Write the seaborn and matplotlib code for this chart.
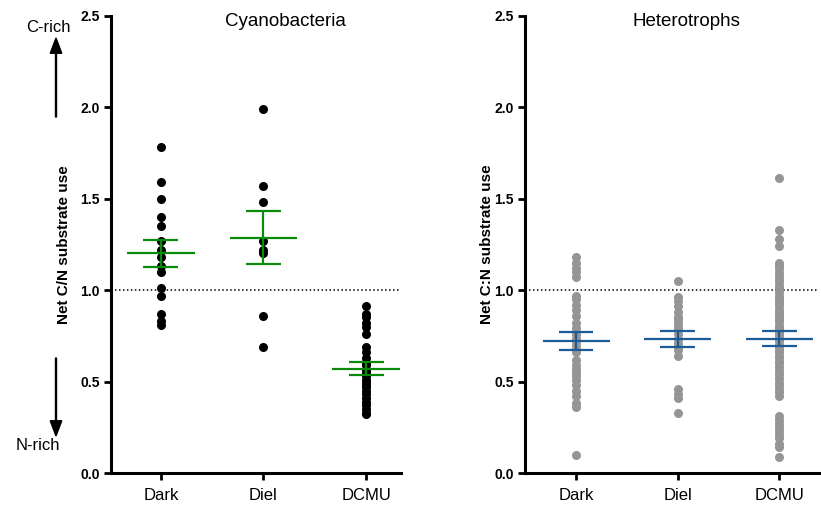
import numpy as np
import pandas as pd
import matplotlib
matplotlib.use("Agg")
import matplotlib.pyplot as plt
import seaborn as sns

categories = ["Dark", "Diel", "DCMU"]

cyano_dark = [1.78, 1.59, 1.50, 1.40, 1.35, 1.27, 1.22, 1.18, 1.13, 1.10, 1.01, 0.97, 0.87, 0.83, 0.81]
cyano_diel = [1.99, 1.57, 1.48, 1.27, 1.22, 1.20, 0.86, 0.69]
cyano_dcmu = [0.91, 0.87, 0.85, 0.82, 0.80, 0.76, 0.69, 0.66, 0.63, 0.60, 0.59, 0.56, 0.55,
              0.53, 0.51, 0.49, 0.48, 0.47, 0.45, 0.43, 0.41, 0.39, 0.37, 0.35, 0.33, 0.32]

het_dark = [1.18, 1.15, 1.12, 1.10, 1.07, 0.97, 0.95, 0.92, 0.89, 0.86, 0.82, 0.79, 0.76, 0.74,
            0.72, 0.70, 0.68, 0.66, 0.62, 0.59, 0.57, 0.55, 0.53, 0.51, 0.48, 0.45, 0.42,
            0.38, 0.36, 0.10]
het_diel = [1.05, 0.96, 0.94, 0.91, 0.88, 0.85, 0.84, 0.82, 0.80, 0.79, 0.76, 0.73, 0.71,
            0.69, 0.67, 0.64, 0.46, 0.43, 0.41, 0.33]
het_dcmu = [1.61, 1.33, 1.28, 1.24, 1.15, 1.13, 1.12, 1.10, 1.08, 1.06, 1.05, 1.03, 1.01,
            0.99, 0.97, 0.95, 0.94, 0.93, 0.91, 0.89, 0.88, 0.87, 0.85, 0.84, 0.83, 0.81,
            0.80, 0.79, 0.78, 0.77, 0.76, 0.75, 0.73, 0.72, 0.70, 0.69, 0.67, 0.66, 0.64,
            0.63, 0.61, 0.60, 0.58, 0.56, 0.54, 0.52, 0.50, 0.48, 0.46, 0.44, 0.42, 0.31,
            0.29, 0.27, 0.25, 0.23, 0.21, 0.19, 0.16, 0.14, 0.09]

y_ticks = [0.0, 0.5, 1.0, 1.5, 2.0, 2.5]
y_ticklabels = ["0.0", "0.5", "1.0", "1.5", "2.0", "2.5"]


def to_df(groups):
    rows = []
    for cat, vals in zip(categories, groups):
        for v in vals:
            rows.append({"group": cat, "value": v})
    return pd.DataFrame(rows)


sns.set_style("ticks")
plt.rcParams["font.family"] = ["Liberation Sans", "DejaVu Sans"]
plt.rcParams["text.color"] = "black"
plt.rcParams["axes.labelcolor"] = "black"
plt.rcParams["xtick.color"] = "black"
plt.rcParams["ytick.color"] = "black"

fig = plt.figure(figsize=(8.21, 5.09), dpi=100)
ax1 = fig.add_axes([0.1352, 0.0707, 0.3532, 0.8988])
ax2 = fig.add_axes([0.6395, 0.0707, 0.3580, 0.8988])

panels = [
    (ax1, [cyano_dark, cyano_diel, cyano_dcmu], "black", "#0a8a0a", "Cyanobacteria",
     "Net C/N substrate use", (-0.486, 2.34), 0.60, 7),
    (ax2, [het_dark, het_diel, het_dcmu], "#959595", "#1b5b97", "Heterotrophs",
     "Net C:N substrate use", (-0.502, 2.39), 0.55, 0),
]

for ax, groups, pcol, lcol, title, ylab, xlim, tx, lpad in panels:
    df = to_df(groups)
    ax.axhline(1.0, color="black", lw=1.1, ls=(0, (1, 1.6)), zorder=1)
    sns.stripplot(data=df, x="group", y="value", order=categories, jitter=False,
                  color=pcol, size=6.5, linewidth=0, ax=ax, zorder=2)
    for i, vals in enumerate(groups):
        arr = np.asarray(vals)
        m = arr.mean()
        se = arr.std(ddof=1) / np.sqrt(len(arr))
        ax.hlines(m, i - 0.33, i + 0.33, color=lcol, lw=1.6, zorder=4)
        ax.hlines([m - se, m + se], i - 0.17, i + 0.17, color=lcol, lw=1.6, zorder=4)
        ax.vlines(i, m - se, m + se, color=lcol, lw=1.6, zorder=4)
    ax.set_xlim(*xlim)
    ax.set_ylim(0, 2.5)
    ax.set_yticks(y_ticks)
    ax.set_yticklabels(y_ticklabels, fontweight="bold", fontsize=10)
    ax.set_xticks(range(len(categories)))
    ax.set_xticklabels(categories, fontsize=12)
    ax.set_xlabel("")
    ax.set_ylabel(ylab, fontsize=11, fontweight="bold", labelpad=lpad)
    ax.tick_params(axis="both", width=2, length=5, color="black", labelcolor="black", pad=3)
    ax.tick_params(axis="x", pad=6)
    for sp in ["top", "right"]:
        ax.spines[sp].set_visible(False)
    for sp in ["left", "bottom"]:
        ax.spines[sp].set_linewidth(2.2)
        ax.spines[sp].set_color("black")
    ax.text(tx, 0.987, title, transform=ax.transAxes, ha="center", va="center",
            fontsize=13.5)

# direction arrows on the left
fig.text(48 / 821, 1 - 28 / 509, "C-rich", ha="center", va="center", fontsize=12)
fig.text(38 / 821, 1 - 446 / 509, "N-rich", ha="center", va="center", fontsize=12)
fig.patches.append(matplotlib.patches.FancyArrow(
    56 / 821, 1 - 117 / 509, 0, (117 - 38) / 509, width=0.0012, head_width=0.014,
    head_length=0.03, length_includes_head=True, color="black", transform=fig.transFigure))
fig.patches.append(matplotlib.patches.FancyArrow(
    56 / 821, 1 - 358 / 509, 0, -(436 - 358) / 509, width=0.0012, head_width=0.014,
    head_length=0.03, length_includes_head=True, color="black", transform=fig.transFigure))

fig.savefig("out.png", dpi=100)
